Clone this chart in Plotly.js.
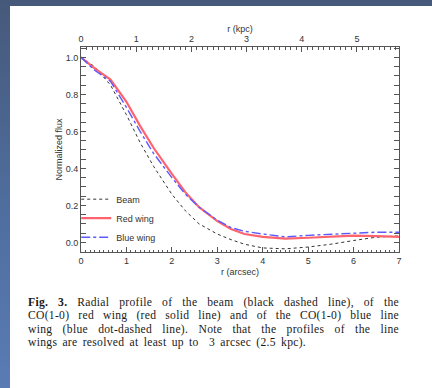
<!DOCTYPE html>
<html>
<head>
<meta charset="utf-8">
<script src="https://cdn.plot.ly/plotly-3.0.1.min.js"></script>
<style>
  html, body { margin:0; padding:0; width:432px; height:388px; overflow:hidden; }
  body { background: linear-gradient(to bottom, #46597a 0%, #5070a2 60%, #5a7bb4 100%); position:relative; }
  #box { position:absolute; left:10px; top:6px; width:422px; height:382px; background:#ffffff; }
  #plot { position:absolute; left:0; top:0; width:432px; height:388px; }
  #caption { position:absolute; left:28px; top:296px; width:371px; font-family:"Liberation Serif","DejaVu Serif",serif; font-size:11.6px; line-height:13.4px; color:#1a1a1a; letter-spacing:0.3px; }
  #caption div { text-align:justify; text-align-last:justify; white-space:nowrap; }
  #caption div.last { text-align-last:left; word-spacing:2px; }
</style>
</head>
<body>
<div id="box"></div>
<div id="plot"></div>
<div id="caption">
  <div><b>Fig. 3.</b> Radial profile of the beam (black dashed line), of the</div>
  <div>CO(1-0) red wing (red solid line) and of the CO(1-0) blue line</div>
  <div>wing (blue dot-dashed line). Note that the profiles of the line</div>
  <div class="last">wings are resolved at least up to&nbsp; 3 arcsec (2.5 kpc).</div>
</div>
<script>
// radius in arcsec
const rArcsec  = [0, 0.3, 0.65, 1.0, 1.3, 1.6, 2.0, 2.3, 2.6, 3.0, 3.3, 3.6, 4.0, 4.5, 5.0, 5.5, 6.0, 6.5, 7.0];
const beam     = [1.0, 0.95, 0.85, 0.69, 0.54, 0.41, 0.26, 0.17, 0.10, 0.045, 0.015, -0.01, -0.03, -0.035, -0.025, -0.01, 0.01, 0.028, 0.035];
const redWing  = [1.0, 0.94, 0.88, 0.76, 0.63, 0.51, 0.37, 0.27, 0.19, 0.115, 0.072, 0.045, 0.03, 0.02, 0.025, 0.032, 0.036, 0.034, 0.03];
const blueWing = [1.0, 0.93, 0.87, 0.73, 0.60, 0.48, 0.35, 0.26, 0.19, 0.12, 0.08, 0.06, 0.045, 0.03, 0.038, 0.045, 0.052, 0.055, 0.055];
const seriesNames = ['Beam', 'Red wing', 'Blue wing'];
const yTicks = [0.0, 0.2, 0.4, 0.6, 0.8, 1.0];
const yTickText = ['0.0', '0.2', '0.4', '0.6', '0.8', '1.0'];
const xTicks = [0, 1, 2, 3, 4, 5, 6, 7];
const kpcTicks = [0, 1, 2, 3, 4, 5];
const arcsecPerKpc = 1.215;

const tickFont = {family:'Liberation Sans, Arial, sans-serif', size:9, color:'#333'};
const axColor = '#555';

const traces = [
  {x: rArcsec, y: beam, name: seriesNames[0], mode:'lines', line:{color:'#333', width:1, dash:'3px,3px'}},
  {x: rArcsec, y: redWing, name: seriesNames[1], mode:'lines', line:{color:'rgb(255,100,110)', width:2.2}},
  {x: rArcsec, y: blueWing, name: seriesNames[2], mode:'lines', line:{color:'rgb(90,90,255)', width:1.4, dash:'dashdot'}}
];

const layout = {
  width:432, height:388,
  paper_bgcolor:'rgba(0,0,0,0)', plot_bgcolor:'rgba(0,0,0,0)',
  margin:{l:81, r:33, t:47, b:136},
  showlegend:true,
  legend:{x:-0.015, xanchor:'left', y:0.165, yanchor:'middle', bgcolor:'rgba(0,0,0,0)', borderwidth:0,
          font:{family:'Liberation Sans, Arial, sans-serif', size:9, color:'#333'}, tracegroupgap:0},
  xaxis:{range:[0,7], tickvals:xTicks, ticktext:xTicks.map(String), ticks:'inside', ticklen:5, tickcolor:axColor,
         showline:true, linecolor:axColor, linewidth:1, zeroline:false, showgrid:false, mirror:false,
         tickfont:tickFont, minor:{dtick:0.1, ticks:'inside', ticklen:2.5, tickcolor:axColor, showgrid:false},
         title:{text:'r (arcsec)', font:tickFont, standoff:3}},
  xaxis2:{overlaying:'x', side:'top', anchor:'y', range:[0, 7/arcsecPerKpc], tickvals:kpcTicks, ticktext:kpcTicks.map(String),
          ticks:'inside', ticklen:5, tickcolor:axColor, showline:true, linecolor:axColor, linewidth:1, zeroline:false, showgrid:false,
          tickfont:tickFont, minor:{dtick:0.1, ticks:'inside', ticklen:2.5, tickcolor:axColor, showgrid:false},
          title:{text:'r (kpc)', font:tickFont, standoff:0}},
  yaxis:{range:[-0.052, 1.056], tickvals:yTicks, ticktext:yTickText, ticks:'inside', ticklen:5, tickcolor:axColor,
         showline:true, linecolor:axColor, linewidth:1, zeroline:false, showgrid:false, mirror:'allticks',
         tickfont:tickFont, minor:{dtick:0.05, ticks:'inside', ticklen:2.5, tickcolor:axColor, showgrid:false},
         title:{text:'Normalized flux', font:tickFont, standoff:1}}
};

traces.push({x: kpcTicks, y: kpcTicks.map(() => null), xaxis:'x2', yaxis:'y', mode:'lines', showlegend:false, hoverinfo:'skip'});

Plotly.newPlot('plot', traces, layout, {displayModeBar:false, staticPlot:true});
</script>
</body>
</html>
